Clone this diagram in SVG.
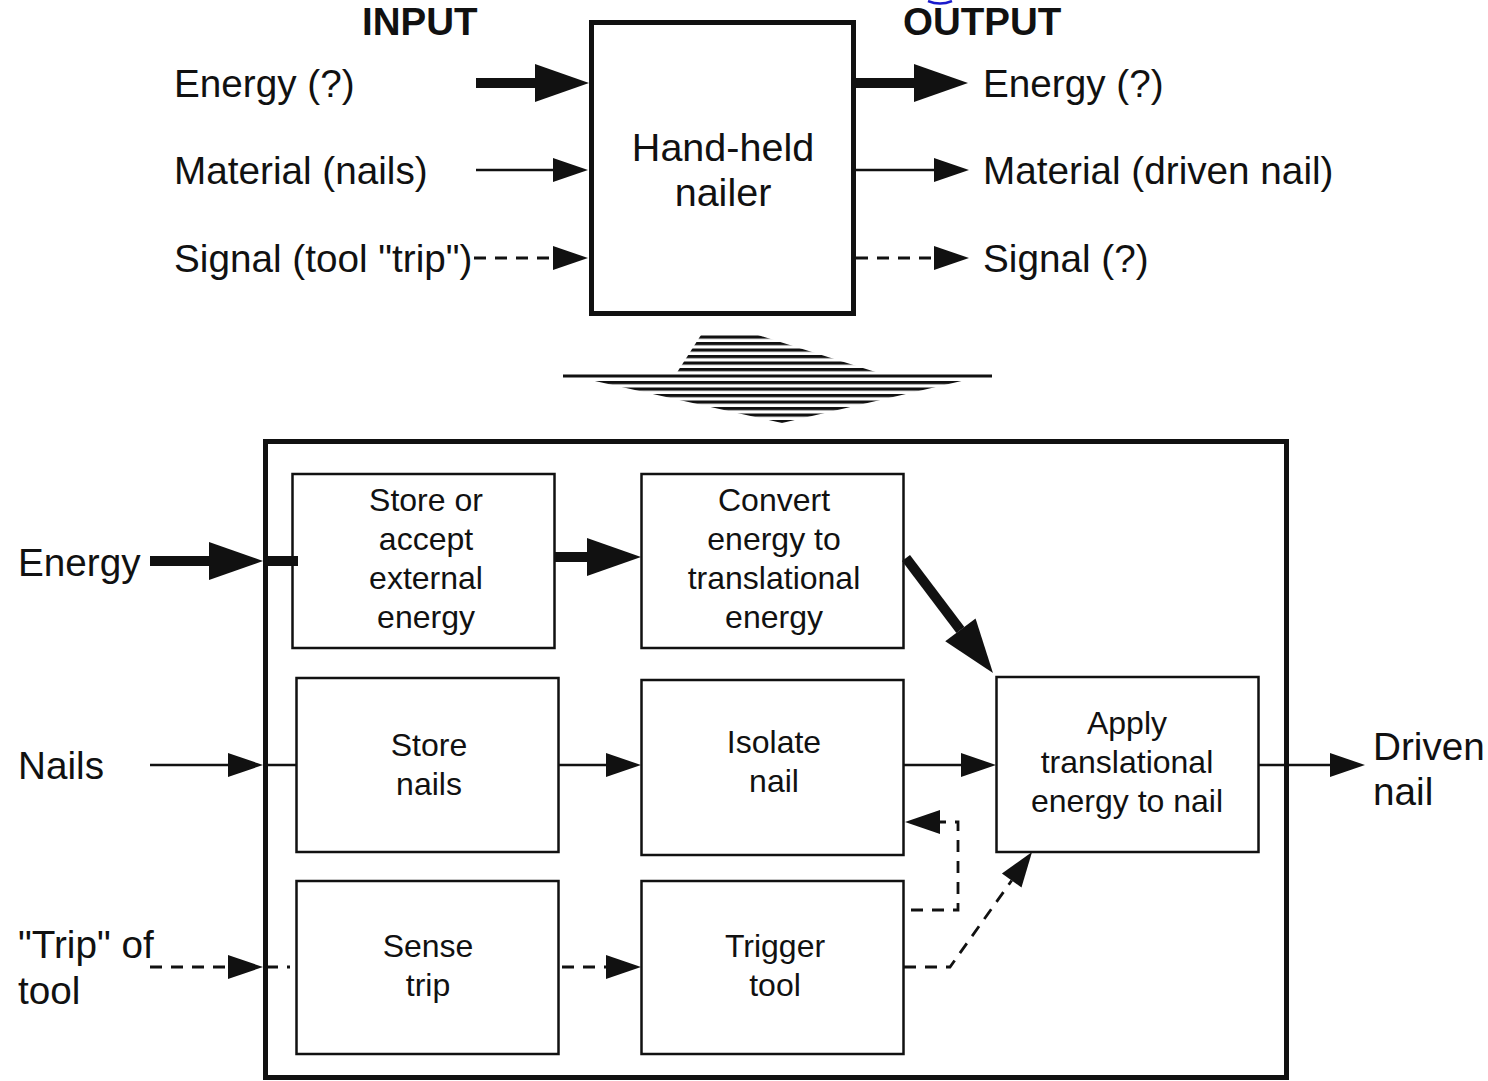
<svg xmlns="http://www.w3.org/2000/svg" width="1488" height="1081" viewBox="0 0 1488 1081">
<style>
  .t { font-family: "Liberation Sans", Arial, sans-serif; fill: #111; }
  .hd { font-size: 38.5px; font-weight: bold; }
  .lb { font-size: 38.7px; }
  .bx { font-size: 32px; text-anchor: middle; }
  .box { fill: #fff; stroke: #111; stroke-width: 2.5; }
  .big { fill: none; stroke: #111; stroke-width: 5; }
  .thick { fill: none; stroke: #111; stroke-width: 10; }
  .thin { fill: none; stroke: #111; stroke-width: 2.5; }
  .dash { fill: none; stroke: #111; stroke-width: 2.8; stroke-dasharray: 12 9; }
</style>
<defs>
  <marker id="ahBig" markerUnits="userSpaceOnUse" viewBox="0 -20 56 40" markerWidth="56" markerHeight="40" refX="0" refY="0" orient="auto" overflow="visible">
    <path d="M0,-19 L54,0 L0,19 Z" fill="#111"/>
  </marker>
  <marker id="ahSm" markerUnits="userSpaceOnUse" viewBox="0 -13 36 26" markerWidth="36" markerHeight="26" refX="0" refY="0" orient="auto" overflow="visible">
    <path d="M0,-12 L35,0 L0,12 Z" fill="#111"/>
  </marker>
  <pattern id="stripes" patternUnits="userSpaceOnUse" x="0" y="335.5" width="10" height="6.5">
    <rect x="0" y="0" width="10" height="3.2" fill="#111"/>
  </pattern>
</defs>

<rect width="1488" height="1081" fill="#fff"/>
<path d="M928,1 Q940,6 952,1" fill="none" stroke="#1a1acc" stroke-width="2.5"/>

<!-- headings and top labels -->
<text class="t hd" x="362" y="35">INPUT</text>
<text class="t hd" x="903" y="35">OUTPUT</text>
<text class="t lb" x="174" y="97">Energy (?)</text>
<text class="t lb" x="174" y="184">Material (nails)</text>
<text class="t lb" x="174" y="272">Signal (tool "trip")</text>
<text class="t lb" x="983" y="97">Energy (?)</text>
<text class="t lb" x="983" y="184">Material (driven nail)</text>
<text class="t lb" x="983" y="272">Signal (?)</text>

<g id="nailer">
  <rect class="big" x="591.5" y="22.5" width="262" height="291"/>
  <text class="t lb" x="723" y="161" text-anchor="middle" style="font-size:39.5px">Hand-held</text>
  <text class="t lb" x="723" y="206" text-anchor="middle" style="font-size:39.5px">nailer</text>
</g>

<!-- striped expansion arrow -->
<g id="expand">
  <polygon points="701,335 758,335 882,374 676,374" fill="url(#stripes)"/>
  <rect x="563" y="374.5" width="429" height="3" fill="#111"/>
  <polygon points="586,379 970,379 782,423" fill="url(#stripes)"/>
</g>

<g id="system">
  <rect class="big" x="265.5" y="441.5" width="1021" height="636"/>
</g>

<text class="t lb" x="18" y="576">Energy</text>
<text class="t lb" x="18" y="779">Nails</text>
<text class="t lb" x="18" y="958">"Trip" of</text>
<text class="t lb" x="18" y="1004">tool</text>
<text class="t lb" x="1373" y="760">Driven</text>
<text class="t lb" x="1373" y="805">nail</text>

<g id="store-energy">
  <rect class="box" x="292.5" y="474" width="262" height="174"/>
  <text class="t bx" x="426" y="511">Store or</text>
  <text class="t bx" x="426" y="550">accept</text>
  <text class="t bx" x="426" y="589">external</text>
  <text class="t bx" x="426" y="628">energy</text>
</g>
<g id="convert">
  <rect class="box" x="641.5" y="474" width="262" height="174"/>
  <text class="t bx" x="774" y="511">Convert</text>
  <text class="t bx" x="774" y="550">energy to</text>
  <text class="t bx" x="774" y="589">translational</text>
  <text class="t bx" x="774" y="628">energy</text>
</g>
<g id="store-nails">
  <rect class="box" x="296.5" y="678" width="262" height="174"/>
  <text class="t bx" x="429" y="756">Store</text>
  <text class="t bx" x="429" y="795">nails</text>
</g>
<g id="isolate">
  <rect class="box" x="641.5" y="680" width="262" height="175"/>
  <text class="t bx" x="774" y="753">Isolate</text>
  <text class="t bx" x="774" y="792">nail</text>
</g>
<g id="apply">
  <rect class="box" x="996.5" y="677" width="262" height="175"/>
  <text class="t bx" x="1127" y="734">Apply</text>
  <text class="t bx" x="1127" y="773">translational</text>
  <text class="t bx" x="1127" y="812">energy to nail</text>
</g>
<g id="sense">
  <rect class="box" x="296.5" y="881" width="262" height="173"/>
  <text class="t bx" x="428" y="957">Sense</text>
  <text class="t bx" x="428" y="996">trip</text>
</g>
<g id="trigger">
  <rect class="box" x="641.5" y="881" width="262" height="173"/>
  <text class="t bx" x="775" y="957">Trigger</text>
  <text class="t bx" x="775" y="996">tool</text>
</g>

<g id="connectors">
  <!-- top -->
  <path class="thick" d="M476,83 H535" marker-end="url(#ahBig)"/>
  <path class="thick" d="M856,83 H914" marker-end="url(#ahBig)"/>
  <path class="thin" d="M476,170 H553" marker-end="url(#ahSm)"/>
  <path class="thin" d="M856,170 H934" marker-end="url(#ahSm)"/>
  <path class="dash" d="M474,258 H553" marker-end="url(#ahSm)"/>
  <path class="dash" d="M856,258 H934" marker-end="url(#ahSm)"/>
  <!-- energy -->
  <path class="thick" d="M150,561 H209" marker-end="url(#ahBig)"/>
  <path class="thick" d="M263,561 H298"/>
  <path class="thick" d="M555,557 H587" marker-end="url(#ahBig)"/>
  <path class="thick" d="M906,558 L960.4,629.9" marker-end="url(#ahBig)"/>
  <!-- nails -->
  <path class="thin" d="M150,765 H228" marker-end="url(#ahSm)"/>
  <path class="thin" d="M263,765 H296"/>
  <path class="thin" d="M558,765 H606" marker-end="url(#ahSm)"/>
  <path class="thin" d="M904,765 H961" marker-end="url(#ahSm)"/>
  <path class="thin" d="M1258,765 H1330" marker-end="url(#ahSm)"/>
  <!-- trip -->
  <path class="dash" d="M150,967 H228" marker-end="url(#ahSm)"/>
  <path class="dash" d="M266,967 H290"/>
  <path class="dash" d="M562,967 H606" marker-end="url(#ahSm)"/>
  <path class="dash" d="M911,910 H958 V822 H940" marker-end="url(#ahSm)"/>
  <path class="dash" d="M904,967 H950 L1011.7,880.5" marker-end="url(#ahSm)"/>
</g>
</svg>
